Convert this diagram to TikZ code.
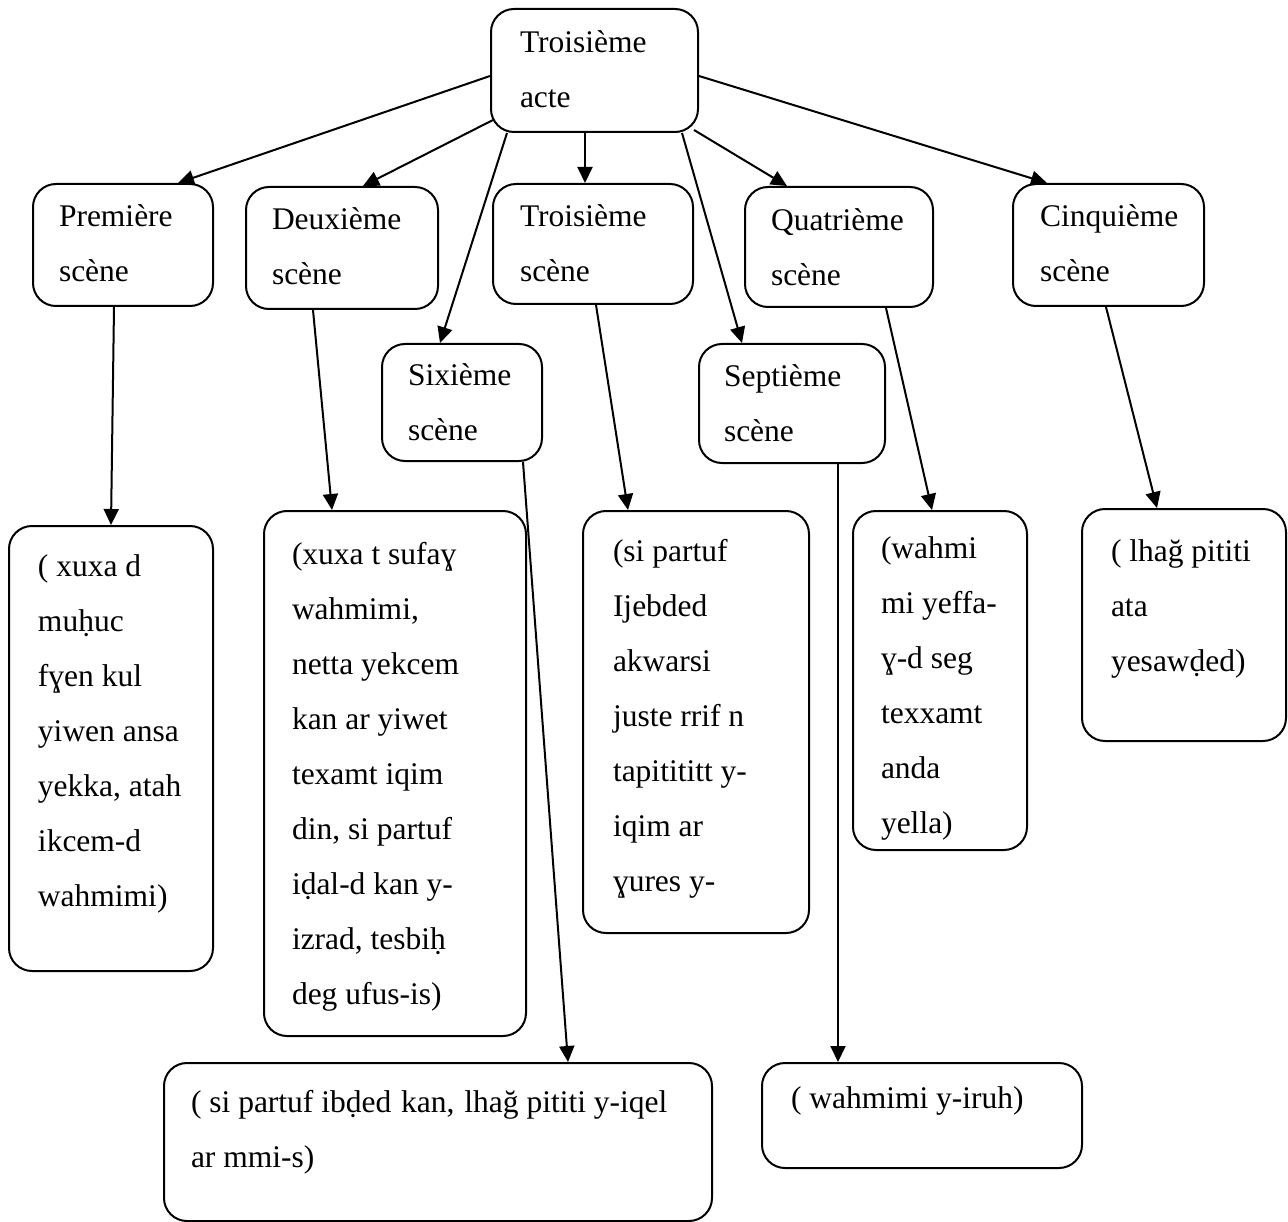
\documentclass[tikz,border=0pt]{standalone}
\usepackage{fontspec}
\setmainfont{Liberation Serif}
\usetikzlibrary{arrows.meta,calc}
% width, height, left pad, first baseline offset, text
\newcommand\bxtext[5]{\parbox[t][#2pt][t]{#1pt}{\baselineskip=55pt\leftskip=#3pt\relax\rule{0pt}{#4pt}#5}}
\tikzset{
  box/.style={draw, line width=2pt, rounded corners=23pt, inner sep=0pt, anchor=north west,
              font=\fontsize{31.5}{55}\selectfont},
  arr/.style={line width=2pt, -{Triangle[length=16pt,width=15pt]}}
}
\begin{document}
\begin{tikzpicture}[x=1pt,y=-1pt]
\useasboundingbox (0,0) rectangle (1288,1222);
% top
\node[box] (top) at (490,8) {\bxtext{207}{123}{29}{44}{Troisième\\acte}};
% scenes
\node[box] (s1) at (32,183)  {\bxtext{180}{122}{26}{43}{Première\\scène}};
\node[box] (s2) at (245,186) {\bxtext{192}{122}{26}{43}{Deuxième\\scène}};
\node[box] (s3) at (492,183) {\bxtext{200}{120}{27}{43}{Troisième\\scène}};
\node[box] (s4) at (744,186) {\bxtext{188}{120}{26}{44}{Quatrième\\scène}};
\node[box] (s5) at (1012,183){\bxtext{191}{122}{27}{43}{Cinquième\\scène}};
\node[box] (s6) at (381,343) {\bxtext{160}{117}{26}{42}{Sixième\\scène}};
\node[box] (s7) at (698,343) {\bxtext{186}{119}{25}{43}{Septième\\scène}};
% descriptions
\node[box] (b1) at (8,525) {\bxtext{204}{445}{29}{50}{( xuxa d\\muḥuc\\fɣen kul\\yiwen ansa\\yekka, atah\\ikcem-d\\wahmimi)}};
\node[box] (b2) at (263,510) {\bxtext{262}{525}{28}{53}{(xuxa t sufaɣ\\wahmimi,\\netta yekcem\\kan ar yiwet\\texamt iqim\\din, si partuf\\iḍal-d kan y-\\izrad, tesbiḥ\\deg ufus-is)}};
\node[box] (b3) at (582,510) {\bxtext{226}{422}{30}{50}{(si partuf\\Ijebded\\akwarsi\\juste rrif n\\tapitititt y-\\iqim ar\\ɣures y-}};
\node[box] (b4) at (852,510) {\bxtext{174}{339}{28}{47}{(wahmi\\mi yeffa-\\ɣ-d seg\\texxamt\\anda\\yella)}};
\node[box] (b5) at (1081,508) {\bxtext{204}{232}{29}{52}{( lhağ pititi\\ata\\yesawḍed)}};
\node[box] (b6) at (163,1062) {\bxtext{548}{158}{27}{49}{( si partuf ibḍed\hspace{2pt} kan,\hspace{2pt} lhağ pititi y-iqel\\ar mmi-s)}};
\node[box] (b7) at (761,1062) {\bxtext{320}{105}{29}{45}{( wahmimi y-iruh)}};
% connectors from the act
\draw[arr] (top.west |- 0,76) -- (178,0 |- s1.north);
\draw[arr] (493,120) -- (363,0 |- s2.north);
\draw[arr] (507,0 |- top.south) -- (440,0 |- s6.north);
\draw[arr] (585,0 |- top.south) -- (585,0 |- s3.north);
\draw[arr] (682,0 |- top.south) -- (742,0 |- s7.north);
\draw[arr] (694,130) -- (787,0 |- s4.north);
\draw[arr] (top.east |- 0,76) -- (1047,0 |- s5.north);
% connectors from scenes
\draw[arr] (114,0 |- s1.south) -- (111,0 |- b1.north);
\draw[arr] (313,0 |- s2.south) -- (332,0 |- b2.north);
\draw[arr] (523,0 |- s6.south) -- (568,0 |- b6.north);
\draw[arr] (596,0 |- s3.south) -- (628,0 |- b3.north);
\draw[arr] (838,0 |- s7.south) -- (838,0 |- b7.north);
\draw[arr] (886,0 |- s4.south) -- (932,0 |- b4.north);
\draw[arr] (1106,0 |- s5.south) -- (1157,0 |- b5.north);
\end{tikzpicture}
\end{document}
